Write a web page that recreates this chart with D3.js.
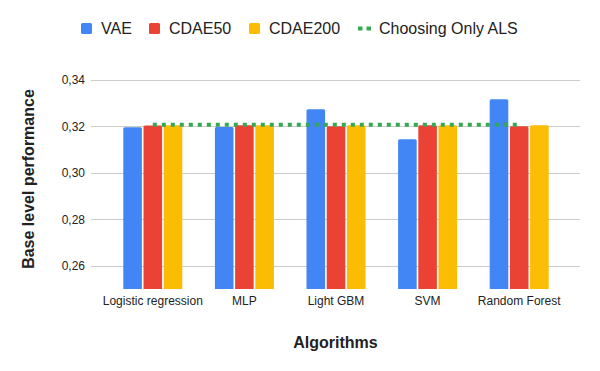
<!DOCTYPE html>
<html>
<head>
<meta charset="utf-8">
<title>Base level performance</title>
<script src="https://d3js.org/d3.v7.min.js"></script>
<style>
  body { margin: 0; background: #fff; }
  text { font-family: "Liberation Sans", Arial, sans-serif; fill: #222; }
</style>
</head>
<body>
<div id="chart"></div>
<script>
// data
var algorithms = ["Logistic regression", "MLP", "Light GBM", "SVM", "Random Forest"];
var seriesNames = ["VAE", "CDAE50", "CDAE200"];
var vae     = [0.3197, 0.3198, 0.3274, 0.3145, 0.3317];
var cdae50  = [0.3204, 0.3205, 0.3201, 0.3205, 0.3201];
var cdae200 = [0.3205, 0.3205, 0.3205, 0.3205, 0.3205];
var onlyAls = 0.3207;
var yTicks = [0.26, 0.28, 0.30, 0.32, 0.34];

var colors = ["#4285f4", "#ea4335", "#fbbc04"];
var lineColor = "#34a853";

var width = 600, height = 371;
var plotLeft = 91, plotRight = 580, plotTop = 80, plotBottom = 289;

var svg = d3.select("#chart").append("svg")
    .attr("width", width)
    .attr("height", height);

// scales
var x = d3.scaleBand()
    .domain(algorithms)
    .range([107, 565])
    .paddingInner(0)
    .paddingOuter(0);

var xSub = d3.scaleBand()
    .domain(seriesNames)
    .range([x.bandwidth() / 2 - 29.5, x.bandwidth() / 2 + 29.5])
    .paddingInner(0.08);

var y = d3.scaleLinear()
    .domain([0.25, 0.34])
    .range([plotBottom, plotTop]);

// gridlines
svg.append("g")
    .selectAll("line")
    .data(yTicks)
    .join("line")
    .attr("x1", plotLeft)
    .attr("x2", plotRight)
    .attr("y1", function (d) { return Math.round(y(d)) + 0.5; })
    .attr("y2", function (d) { return Math.round(y(d)) + 0.5; })
    .attr("stroke", "#cccccc")
    .attr("stroke-width", 1);

// y axis labels
var yAxis = d3.axisLeft(y)
    .tickValues(yTicks)
    .tickSize(0)
    .tickPadding(6)
    .tickFormat(function (d) { return d3.format(".2f")(d).replace(".", ","); });

svg.append("g")
    .attr("transform", "translate(" + plotLeft + ",0)")
    .call(yAxis)
    .call(function (g) { g.select(".domain").remove(); })
    .selectAll("text")
    .style("font-size", "12px")
    .style("font-family", "Liberation Sans, Arial, sans-serif")
    .attr("fill", "#222");

// bars
var rows = algorithms.map(function (a, i) {
    return { name: a, values: [vae[i], cdae50[i], cdae200[i]] };
});

var groups = svg.append("g")
    .selectAll("g")
    .data(rows)
    .join("g")
    .attr("transform", function (d) { return "translate(" + x(d.name) + ",0)"; });

groups.selectAll("path")
    .data(function (d) {
        return d.values.map(function (v, j) { return { key: seriesNames[j], value: v, j: j }; });
    })
    .join("path")
    .attr("fill", function (d) { return colors[d.j]; })
    .attr("d", function (d) {
        var x0 = xSub(d.key), w = xSub.bandwidth();
        var y0 = y(d.value), y1 = plotBottom, r = 1.5;
        return "M" + x0 + "," + y1 +
            "V" + (y0 + r) +
            "Q" + x0 + "," + y0 + " " + (x0 + r) + "," + y0 +
            "H" + (x0 + w - r) +
            "Q" + (x0 + w) + "," + y0 + " " + (x0 + w) + "," + (y0 + r) +
            "V" + y1 + "Z";
    });

// "Choosing Only ALS" dotted line
svg.append("line")
    .attr("x1", x(algorithms[0]) + x.bandwidth() / 2)
    .attr("x2", x(algorithms[algorithms.length - 1]) + x.bandwidth() / 2)
    .attr("y1", y(onlyAls))
    .attr("y2", y(onlyAls))
    .attr("stroke", lineColor)
    .attr("stroke-width", 4)
    .attr("stroke-dasharray", "4,5");

// x axis labels
var xAxis = d3.axisBottom(x).tickSize(0).tickPadding(7);
svg.append("g")
    .attr("transform", "translate(0," + plotBottom + ")")
    .call(xAxis)
    .call(function (g) { g.select(".domain").remove(); })
    .selectAll("text")
    .style("font-size", "12px")
    .style("font-family", "Liberation Sans, Arial, sans-serif")
    .attr("fill", "#222");

// axis titles
svg.append("text")
    .attr("x", (plotLeft + plotRight) / 2)
    .attr("y", 348)
    .attr("text-anchor", "middle")
    .style("font-size", "16px")
    .style("font-weight", "bold")
    .text("Algorithms");

svg.append("text")
    .attr("transform", "translate(34," + 179 + ") rotate(-90)")
    .attr("text-anchor", "middle")
    .style("font-size", "16px")
    .style("font-weight", "bold")
    .text("Base level performance");

// legend
var legendItems = [
    { label: "VAE", color: colors[0], x: 81, type: "box" },
    { label: "CDAE50", color: colors[1], x: 149, type: "box" },
    { label: "CDAE200", color: colors[2], x: 249, type: "box" },
    { label: "Choosing Only ALS", color: lineColor, x: 358, type: "line" }
];

var legend = svg.append("g")
    .selectAll("g")
    .data(legendItems)
    .join("g")
    .attr("transform", function (d) { return "translate(" + d.x + ",23)"; });

legend.filter(function (d) { return d.type === "box"; })
    .append("rect")
    .attr("width", 11)
    .attr("height", 11)
    .attr("rx", 1.5)
    .attr("fill", function (d) { return d.color; });

legend.filter(function (d) { return d.type === "line"; })
    .append("line")
    .attr("x1", 0).attr("x2", 13)
    .attr("y1", 5.5).attr("y2", 5.5)
    .attr("stroke", function (d) { return d.color; })
    .attr("stroke-width", 4)
    .attr("stroke-dasharray", "4.5,4");

legend.append("text")
    .attr("x", function (d) { return d.type === "box" ? 20 : 21; })
    .attr("y", 11)
    .style("font-size", "16px")
    .text(function (d) { return d.label; });
</script>
</body>
</html>
